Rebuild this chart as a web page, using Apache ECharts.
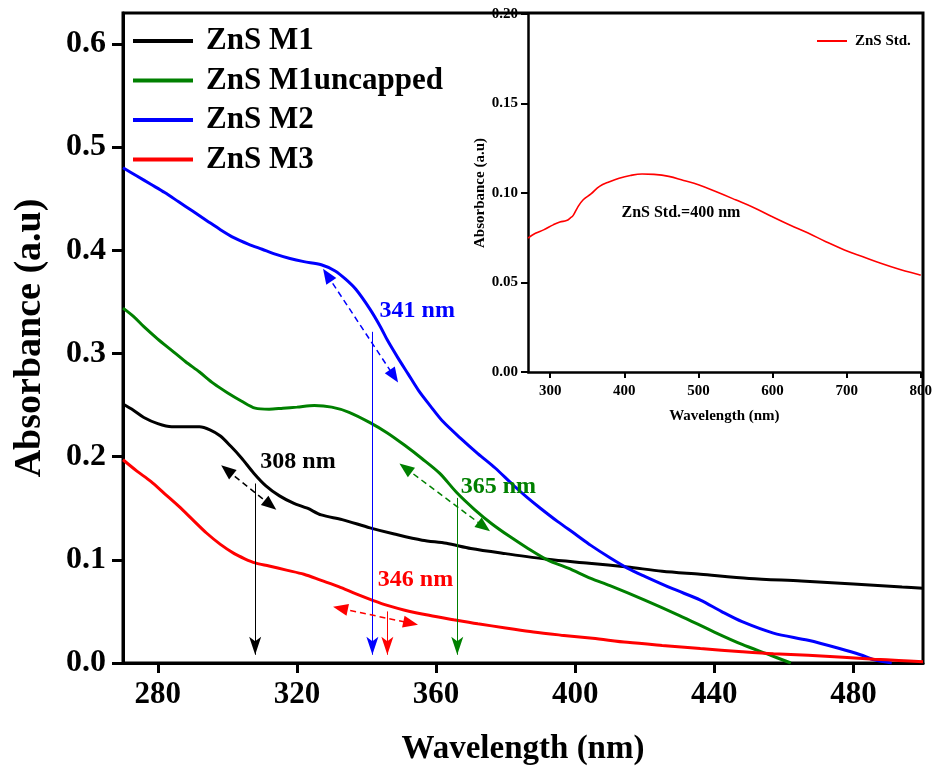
<!DOCTYPE html>
<html><head><meta charset="utf-8">
<script src="https://cdn.jsdelivr.net/npm/echarts@6/dist/echarts.min.js"></script>
<style>html,body{margin:0;padding:0;background:#fff}#c{width:935px;height:772px}</style>
</head><body><div id="c"></div>
<script>
const FONT = "'Liberation Serif','Times New Roman',serif";

// ---- tick labels ----
const mainXTicks = [280, 320, 360, 400, 440, 480];
const mainYTicks = [0, 0.1, 0.2, 0.3, 0.4, 0.5, 0.6];
const insetXTicks = [300, 400, 500, 600, 700, 800];
const insetYTicks = [0, 0.05, 0.10, 0.15, 0.20];

// ---- series: ZnS M1 (black) ----
const m1Wl  = [270,273,276,280,284,288,292,295,298,301,304,307.6,311,315,319,323,327,333,341,348,356,363,370,380,392,404,415,425,436,450,465,480,494,500];
const m1Abs = [0.251,0.245,0.238,0.232,0.229,0.229,0.229,0.226,0.220,0.210,0.199,0.184,0.172,0.162,0.155,0.150,0.1435,0.139,0.131,0.125,0.119,0.116,0.111,0.106,0.1006,0.0967,0.093,0.089,0.086,0.082,0.0795,0.0766,0.0737,0.0725];

// ---- series: ZnS M1uncapped (green) ----
const m1uWl  = [270,273,276,280,284,288,292,296,300,304,308,312,316,320,325,330,335,341,346,351,356,361,366,371,376,381,386,392,398,404.5,410,420,430,440,448,455,462];
const m1uAbs = [0.344,0.336,0.326,0.314,0.303,0.292,0.282,0.271,0.262,0.254,0.247,0.246,0.247,0.248,0.2495,0.248,0.243,0.233,0.223,0.211,0.198,0.184,0.165,0.149,0.135,0.123,0.112,0.100,0.092,0.082,0.075,0.061,0.046,0.030,0.018,0.009,0.000];

// ---- series: ZnS M2 (blue) ----
const m2Wl  = [270,274,278,282,286,290,294,298,302,306,310,314,318,322,327,331,334,337,341,344,346,349,352,355,358.4,362,367,372,377,382,386,390,395,400,404.5,410,415,420,428,436,442,448,457,467,476,482,486,491];
const m2Abs = [0.480,0.472,0.464,0.456,0.447,0.438,0.429,0.420,0.412,0.406,0.401,0.396,0.392,0.389,0.386,0.380,0.372,0.362,0.343,0.326,0.313,0.296,0.280,0.264,0.249,0.234,0.218,0.203,0.189,0.173,0.161,0.150,0.137,0.125,0.114,0.102,0.092,0.084,0.072,0.061,0.050,0.040,0.029,0.022,0.014,0.008,0.003,0.000];

// ---- series: ZnS M3 (red) ----
const m3Wl  = [270,274,278,282,286,290,294,298,302,305,308,312,317,322,327,332,337,342,346,351,358,365,372,380,388,396,405,415,425,436,448,457,467,477,486,493,500];
const m3Abs = [0.197,0.186,0.176,0.164,0.152,0.139,0.126,0.115,0.106,0.101,0.097,0.094,0.090,0.086,0.080,0.074,0.067,0.0605,0.0558,0.0512,0.0462,0.042,0.038,0.034,0.030,0.027,0.024,0.020,0.017,0.014,0.011,0.009,0.0075,0.0055,0.0036,0.0025,0.0013];

// ---- inset: ZnS Std. ----
const stdWl  = [270,280,291,304,313,322,327,331,337,344.5,355,366.5,380,393,408,424,440,460,480,500,525,550,575,599,624,648,672,697,722,746,772,798,800];
const stdAbs = [0.0748,0.0775,0.0794,0.0822,0.0838,0.0846,0.086,0.0875,0.092,0.0962,0.0995,0.1037,0.1063,0.1083,0.1098,0.1106,0.1104,0.1093,0.107,0.1046,0.1005,0.0962,0.0918,0.0869,0.082,0.0776,0.0728,0.0682,0.0644,0.0608,0.0573,0.0543,0.054];

// ---- band-edge annotations (order: M1, M1uncapped, M2, M3) ----
const edgeWl   = [308, 366.1, 341.7, 346];
const edgeTop  = [0.174, 0.160, 0.321, 0.050];
const edgeText = ['308 nm', '365 nm', '341 nm', '346 nm'];
const textWl   = [320.3, 377.9, 354.6, 354.1];
const textAbs  = [0.195, 0.171, 0.341, 0.0805];
const tanFrom  = [[299.9, 0.187], [351.2, 0.189], [328.7, 0.376], [332.5, 0.053]];
const tanTo    = [[312.4, 0.153], [373.8, 0.132], [347.9, 0.278], [352.7, 0.0385]];

const names  = ['ZnS M1', 'ZnS M1uncapped', 'ZnS M2', 'ZnS M3'];
const colors = ['#000000', '#008000', '#0000ff', '#ff0000'];
const wls  = [m1Wl, m1uWl, m2Wl, m3Wl];
const abss = [m1Abs, m1uAbs, m2Abs, m3Abs];

function pairs(x, y) { return x.map((v, i) => [v, y[i]]); }

const series = names.map((name, i) => ({
  type: 'line', name, xAxisIndex: 0, yAxisIndex: 0,
  data: pairs(wls[i], abss[i]),
  symbol: 'none', smooth: 0.3, z: 3,
  lineStyle: { color: colors[i], width: 3 },
  itemStyle: { color: colors[i] },
  emphasis: { disabled: true },
  markLine: {
    silent: true, animation: false,
    label: { show: false },
    emphasis: { disabled: true },
    lineStyle: { color: colors[i], width: 1, type: 'solid' },
    data: [
      [ { coord: [edgeWl[i], edgeTop[i]], symbol: 'none' },
        { coord: [edgeWl[i], 0.008], symbol: 'arrow', symbolSize: [9, 18] } ],
      [ { coord: tanFrom[i], symbol: 'triangle', symbolSize: [12, 15],
          lineStyle: { type: [6, 4], width: 1.5, color: colors[i] } },
        { coord: tanTo[i], symbol: 'triangle', symbolSize: [12, 15] } ]
    ]
  },
  markPoint: {
    silent: true, animation: false,
    symbol: 'rect', symbolSize: 1,
    itemStyle: { color: 'rgba(0,0,0,0)' },
    data: [{ coord: [textWl[i], textAbs[i]] }],
    label: { show: true, position: 'inside', formatter: edgeText[i],
      color: colors[i], fontFamily: FONT, fontWeight: 'bold', fontSize: 24 }
  }
}));

series.push({
  type: 'line', name: 'ZnS Std.', xAxisIndex: 1, yAxisIndex: 1,
  data: pairs(stdWl, stdAbs),
  symbol: 'none', smooth: 0.4,
  lineStyle: { color: '#ff0000', width: 1.6 },
  itemStyle: { color: '#ff0000' },
  emphasis: { disabled: true },
  markPoint: {
    silent: true, animation: false,
    symbol: 'rect', symbolSize: 1,
    itemStyle: { color: 'rgba(0,0,0,0)' },
    data: [{ coord: [476.4, 0.0889] }],
    label: { show: true, position: 'inside', formatter: 'ZnS Std.=400 nm',
      color: '#000', fontFamily: FONT, fontWeight: 'bold', fontSize: 16 }
  }
});

const bold = (size) => ({ color: '#000', fontFamily: FONT, fontWeight: 'bold', fontSize: size });

const option = {
  animation: false,
  backgroundColor: '#fff',
  grid: [
    { left: 123, top: 13, right: 12, bottom: 109, show: true, borderColor: '#000', borderWidth: 3, backgroundColor: 'transparent' },
    { left: 528, top: 14, right: 12, bottom: 400, show: false }
  ],
  legend: [
    { data: names, orient: 'vertical', left: 128, top: 20, itemWidth: 60, itemHeight: 4, itemGap: 7.5,
      icon: 'rect', selectedMode: false,
      textStyle: Object.assign(bold(31), { lineHeight: 32, padding: [0, 0, 0, 8] }) },
    { data: ['ZnS Std.'], left: 812, top: 28, itemWidth: 30, itemHeight: 2, icon: 'rect', selectedMode: false,
      textStyle: Object.assign(bold(15), { lineHeight: 16, padding: [0, 0, 0, 3] }) }
  ],
  xAxis: [
    { type: 'value', gridIndex: 0, min: 270, max: 500,
      axisLine: { show: true, lineStyle: { color: '#000', width: 3 } },
      axisTick: { show: true, customValues: mainXTicks, length: 10, lineStyle: { color: '#000', width: 3 } },
      axisLabel: Object.assign(bold(31), { customValues: mainXTicks, margin: 16 }),
      splitLine: { show: false },
      name: 'Wavelength (nm)', nameLocation: 'middle', nameGap: 70, nameTextStyle: bold(33) },
    { type: 'value', gridIndex: 1, min: 270, max: 800,
      axisLine: { show: true, lineStyle: { color: '#000', width: 2.5 } },
      axisTick: { show: true, customValues: insetXTicks, length: 6, lineStyle: { color: '#000', width: 2 } },
      axisLabel: Object.assign(bold(15), { customValues: insetXTicks, margin: 12 }),
      splitLine: { show: false },
      name: 'Wavelength (nm)', nameLocation: 'middle', nameGap: 37, nameTextStyle: bold(15) }
  ],
  yAxis: [
    { type: 'value', gridIndex: 0, min: 0, max: 0.63,
      axisLine: { show: true, lineStyle: { color: '#000', width: 3 } },
      axisTick: { show: true, customValues: mainYTicks, length: 11, lineStyle: { color: '#000', width: 3 } },
      axisLabel: Object.assign(bold(32), { customValues: mainYTicks, margin: 17, formatter: v => v.toFixed(1) }),
      splitLine: { show: false },
      name: 'Absorbance (a.u)', nameLocation: 'middle', nameGap: 74, nameTextStyle: bold(38) },
    { type: 'value', gridIndex: 1, min: 0, max: 0.2,
      axisLine: { show: true, lineStyle: { color: '#000', width: 2.5 } },
      axisTick: { show: true, customValues: insetYTicks, length: 7, lineStyle: { color: '#000', width: 2 } },
      axisLabel: Object.assign(bold(15), { customValues: insetYTicks, margin: 10, formatter: v => v.toFixed(2) }),
      splitLine: { show: false },
      name: 'Absorbance (a.u)', nameLocation: 'middle', nameGap: 40, nameTextStyle: bold(15) }
  ],
  series
};

const chart = echarts.init(document.getElementById('c'), null, { renderer: 'canvas' });
chart.setOption(option);
</script>
</body></html>
